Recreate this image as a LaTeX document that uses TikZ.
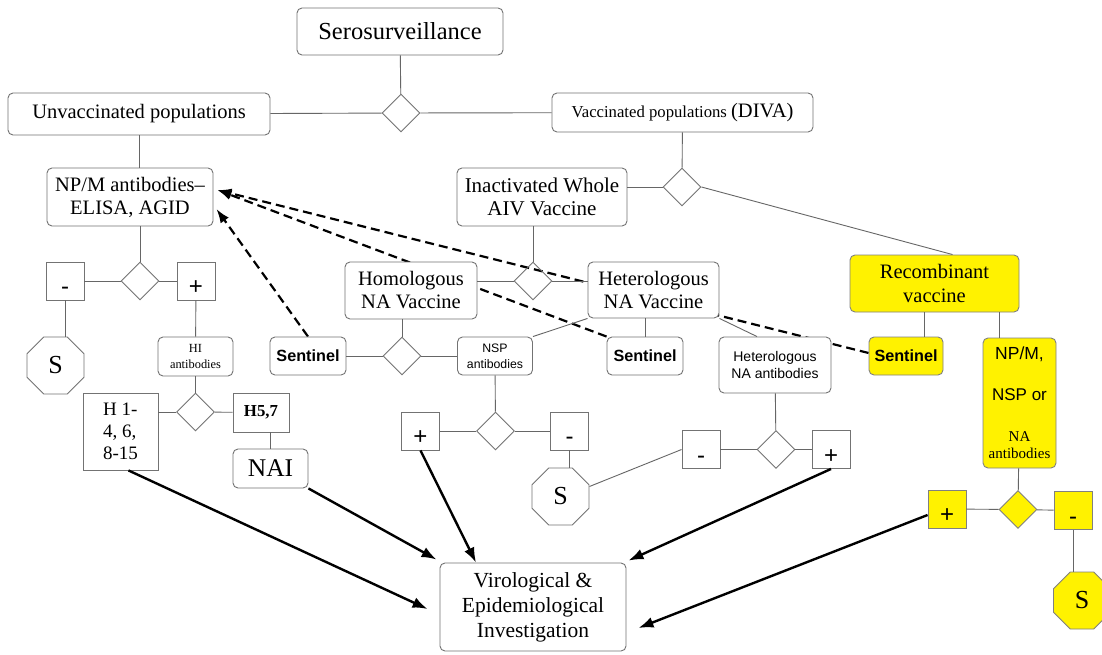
\documentclass[tikz,border=0pt]{standalone}
\usepackage{fontspec}
\setmainfont{Liberation Serif}
\setsansfont{Liberation Sans}
\usepackage{tikz}
\usetikzlibrary{arrows.meta,shapes.geometric,backgrounds}
\newcommand{\fsz}[2]{\fontsize{#1}{#2}\selectfont}

\begin{document}
\begin{tikzpicture}[x=1pt,y=-1pt,
  box/.style={draw=black!55,fill=white,line width=0.9pt,rounded corners=5pt,inner sep=0pt,align=center},
  sqbox/.style={draw=black!55,fill=white,line width=0.9pt,inner sep=0pt,align=center},
  sign/.style={sqbox,minimum width=38pt,minimum height=38pt,font=\sffamily\fsz{24}{27},text height=27pt,text depth=0pt},
  dia/.style={diamond,draw=black!55,line width=0.9pt,inner sep=0pt,minimum width=38pt,minimum height=38pt},
  oct/.style={regular polygon,regular polygon sides=8,draw=black!55,fill=white,line width=0.9pt,inner sep=0pt,minimum size=61.7pt,font=\fsz{26}{30}},
  yel/.style={fill=yellow,draw=black!50},
  link/.style={draw=black!60,line width=0.9pt},
  arr/.style={-{Latex[length=15pt,width=11pt]},line width=2.4pt},
  darr/.style={-{Latex[length=14pt,width=10pt]},line width=2.2pt,dash pattern=on 9pt off 5pt}]
  \useasboundingbox (0,0) rectangle (1102,655);
  % top level
  \node[box,minimum width=206pt,minimum height=47pt,font=\fsz{24.5}{28}] (sero) at (400,31.5) {Serosurveillance};
  \node[dia] (dTop) at (401,113) {};
  \node[box,minimum width=262pt,minimum height=42pt,font=\fsz{20.5}{24}] (unvac) at (139,114) {Unvaccinated populations};
  \node[box,minimum width=261pt,minimum height=39pt] (vac) at (682.5,112.5) {\fsz{16.7}{20}Vaccinated populations \fsz{20.5}{24}(DIVA)};
  % unvaccinated branch
  \node[box,minimum width=166pt,minimum height=58pt,font=\fsz{20.5}{23}] (npm) at (130,197) {NP/M antibodies–\\ELISA, AGID};
  \node[dia] (dNpm) at (140,281) {};
  \node[sign] (minL) at (65,281) {-};
  \node[sign] (plusL) at (196,281) {+};
  \node[oct] (sL) at (55.5,365.5) {S};
  \node[box,minimum width=75pt,minimum height=39pt,font=\fsz{12.4}{15.5}] (hi) at (195.5,356.5) {HI\\antibodies};
  \node[dia] (dHi) at (195.5,412) {};
  \node[sqbox,minimum width=75pt,minimum height=77pt,align=left,font=\fsz{19}{22}] (hRest) at (120.5,431.5) {H 1-\\4, 6,\\8-15};
  \node[sqbox,minimum width=56pt,minimum height=39pt,font=\bfseries\fsz{16.8}{20}] (h57) at (261,412.5) {H5,7};
  \node[box,minimum width=75pt,minimum height=39pt,font=\fsz{25.5}{29}] (nai) at (270.5,468.5) {NAI};
  % vaccinated branch
  \node[dia] (dVac) at (682,187) {};
  \node[box,minimum width=170pt,minimum height=58pt,font=\fsz{21}{23.5}] (inact) at (542,197) {Inactivated Whole\\AIV Vaccine};
  \node[box,yel,minimum width=169pt,minimum height=57pt,font=\fsz{20.5}{24}] (recomb) at (934.5,283.5) {Recombinant\\vaccine};
  \node[dia] (dMid) at (533,281) {};
  \node[box,minimum width=132pt,minimum height=57pt,font=\fsz{20.5}{23}] (homo) at (411,290.5) {Homologous\\NA Vaccine};
  \node[box,minimum width=131pt,minimum height=56pt,font=\fsz{20.5}{23}] (hetero) at (653.5,290) {Heterologous\\NA Vaccine};
  \node[box,minimum width=76pt,minimum height=38pt,font=\sffamily\bfseries\fsz{16.2}{19}] (sentL) at (308,356) {Sentinel};
  \node[dia] (dHomo) at (402,356) {};
  \node[box,minimum width=75pt,minimum height=38pt,font=\sffamily\fsz{12.3}{16}] (nsp) at (495,356) {NSP\\antibodies};
  \node[box,minimum width=76pt,minimum height=38pt,font=\sffamily\bfseries\fsz{16.2}{19}] (sentM) at (645,356) {Sentinel};
  \node[box,minimum width=112pt,minimum height=56pt,font=\sffamily\fsz{14}{16.5}] (hetNA) at (775,365) {Heterologous\\NA antibodies};
  % NSP results
  \node[dia] (dNsp) at (495.5,431) {};
  \node[sign] (plusM) at (420.5,431) {+};
  \node[sign] (minM) at (569.5,431) {-};
  \node[oct] (sM) at (560.5,496.5) {S};
  % heterologous NA results
  \node[dia] (dHetNA) at (776,449.5) {};
  \node[sign] (minR) at (701,449.5) {-};
  \node[sign] (plusR) at (831,449.5) {+};
  % recombinant branch
  \node[box,yel,minimum width=74pt,minimum height=38pt,font=\sffamily\bfseries\fsz{16.2}{19}] (sentY) at (906,356) {Sentinel};
  \node[box,yel,minimum width=73pt,minimum height=130pt,font=\fsz{15}{17}] (npmY) at (1019.5,403) {{\sffamily\fsz{17.5}{20}NP/M,}\\[24pt]{\sffamily\fsz{17}{20}NSP or}\\[24pt]NA\\antibodies};
  \node[dia,yel] (dY) at (1018,509.5) {};
  \node[sign,yel] (plusY) at (947,509) {+};
  \node[sign,yel] (minY) at (1073,510.5) {-};
  \node[oct,yel] (sY) at (1082,600.5) {S};
  % investigation
  \node[box,minimum width=186pt,minimum height=88pt,font=\fsz{21.5}{25}] (vir) at (533,607) {Virological \&\\Epidemiological\\Investigation};

  % thin links
  \draw[link] (sero) -- (dTop);
  \draw[link] (unvac) -- (dTop) -- (vac);
  \draw[link] (vac) -- (dVac);
  \draw[link] (dVac.west) -- (dVac.west -| inact.east);
  \draw[link] (dVac.east) -- ([xshift=18pt]recomb.north);
  \draw[link] (unvac.south) -- (unvac.south |- npm.north);
  \draw[link] (dNpm.north |- npm.south) -- (dNpm.north);
  \draw[link] (minL) -- (dNpm) -- (plusL);
  \draw[link] (minL.south) -- (minL.south |- sL.north);
  \draw[link] (plusL) -- (hi);
  \draw[link] (hi) -- (dHi);
  \draw[link] (dHi.west) -- (dHi.west -| hRest.east);
  \draw[link] (dHi) -- (h57);
  \draw[link] (nai.north) -- (nai.north |- h57.south);
  \draw[link] (dMid.north |- inact.south) -- (dMid.north);
  \draw[link] (dMid.west -| homo.east) -- (dMid) -- (dMid.east -| hetero.west);
  \draw[link] (dHomo.north |- homo.south) -- (dHomo.north);
  \draw[link] (sentL) -- (dHomo) -- (nsp);
  \draw[link] (hetero.south west) -- (nsp.north east);
  \draw[link] (sentM.north |- hetero.south) -- (sentM.north);
  \draw[link] (hetero.south east) -- ([xshift=-18pt]hetNA.north);
  \draw[link] (hetNA) -- (dHetNA);
  \draw[link] (minR) -- (dHetNA) -- (plusR);
  \draw[link] (nsp) -- (dNsp);
  \draw[link] (plusM) -- (dNsp) -- (minM);
  \draw[link] (minM.south) -- (minM.south |- sM.north);
  \draw[link] ([yshift=10pt]sM.east) -- (minR.west);
  \draw[link] ([xshift=-10pt]recomb.south) -- ([xshift=-10pt]recomb.south |- sentY.north);
  \draw[link] ([xshift=65pt]recomb.south) -- ([xshift=65pt]recomb.south |- npmY.north);
  \draw[link] (npmY) -- (dY);
  \draw[link] (plusY) -- (dY) -- (minY);
  \draw[link] (minY.south) -- (minY.south |- sY.north);

  % arrows to investigation
  \draw[arr] ([xshift=8pt]hRest.south) -- ([shift={(-12pt,-2pt)}]vir.west);
  \draw[arr] (nai.south east) -- ([shift={(-3pt,3pt)}]vir.north west);
  \draw[arr] (plusM.south) -- ([xshift=-57pt]vir.north);
  \draw[arr] (plusR.south) -- ([shift={(2pt,2pt)}]vir.north east);
  \draw[arr] ([yshift=-6pt]plusY.west) -- ([shift={(12pt,-21pt)}]vir.east);

  % sentinels back to NP/M
  \begin{pgfonlayer}{background}
    \fill[white] (0,0) rectangle (1102,655);
    \draw[darr] (sentL.north) -- ([shift={(3pt,-12pt)}]npm.east);
    \draw[darr] (sentM.north west) -- ([shift={(4pt,7pt)}]npm.east);
    \draw[darr] ([yshift=3pt]sentY.west) -- ([shift={(4pt,7pt)}]npm.east);
  \end{pgfonlayer}
\end{tikzpicture}
\end{document}
